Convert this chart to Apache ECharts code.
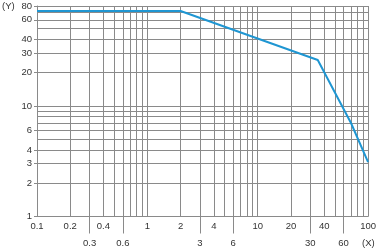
<!DOCTYPE html>
<html>
<head>
<meta charset="utf-8">
<script src="https://cdn.jsdelivr.net/npm/echarts@6/dist/echarts.min.js"></script>
<style>html,body{margin:0;padding:0;background:#fff}#c{width:379px;height:251px}</style>
</head>
<body>
<div id="c"></div>
<script>
// Data (log-log)
const xValues = [0.1, 2, 35, 70, 100];
const yValues = [72, 72, 26, 7, 3.1];

// Grid lines and tick labels
const xGrid = [0.1,0.2,0.3,0.4,0.5,0.6,0.7,0.8,0.9,1,2,3,4,5,6,7,8,9,10,20,30,40,50,60,70,80,90,100];
const xLabelsRow1 = [0.1, 0.2, 0.4, 1, 2, 4, 10, 20, 40, 100];
const xLabelsRow2 = [0.3, 0.6, 3, 6, 30, 60];
const yGrid = [1,2,3,4,5,6,7,8,9,10,20,30,40,50,60,70,80];
const yLabels = [1, 2, 3, 4, 6, 10, 20, 30, 40, 60, 80];
const xName = '(X)';
const yName = '(Y)';

const FONT = 'Liberation Sans, Arial, sans-serif';
const TXT = '#333';
const GRID = '#8a8a8a';
const fmt = v => String(+(+v).toPrecision(6));

const chart = echarts.init(document.getElementById('c'), null, {renderer: 'canvas'});
chart.setOption({
  animation: false,
  grid: {left: 37, right: 9, top: 6, bottom: 34.5, containLabel: false},
  xAxis: [
    {
      type: 'log', logBase: 10, min: 0.1, max: 100, position: 'bottom',
      axisLine: {show: true, onZero: false, lineStyle: {color: GRID, width: 1}},
      axisTick: {show: false, customValues: xGrid},
      splitLine: {show: true, lineStyle: {color: GRID, width: 1}},
      axisLabel: {customValues: xLabelsRow1, formatter: fmt, margin: 5,
        fontFamily: FONT, fontSize: 9.5, color: TXT}
    },
    {
      type: 'log', logBase: 10, min: 0.1, max: 100, position: 'bottom',
      axisLine: {show: false, onZero: false},
      axisTick: {show: true, customValues: xLabelsRow2, length: 17, inside: false,
        lineStyle: {color: GRID, width: 1}},
      splitLine: {show: false},
      axisLabel: {customValues: xLabelsRow2, formatter: fmt, margin: 22,
        fontFamily: FONT, fontSize: 9.5, color: TXT}
    }
  ],
  yAxis: [
    {
      type: 'log', logBase: 10, min: 1, max: 80, position: 'left',
      axisLine: {show: true, onZero: false, lineStyle: {color: GRID, width: 1}},
      axisTick: {show: false, customValues: yGrid},
      splitLine: {show: true, lineStyle: {color: GRID, width: 1}},
      axisLabel: {customValues: yLabels, formatter: fmt, margin: 5,
        fontFamily: FONT, fontSize: 9.5, color: TXT}
    },
    {
      type: 'log', logBase: 10, min: 1, max: 80, position: 'left',
      axisLine: {show: false, onZero: false},
      axisTick: {show: true, customValues: yLabels, length: 3,
        lineStyle: {color: GRID, width: 1}},
      splitLine: {show: false},
      axisLabel: {show: false}
    }
  ],
  graphic: [
    {type: 'text', left: 2, top: 1, style: {text: yName, font: '9.5px ' + FONT, fill: TXT}},
    {type: 'text', left: 362, top: 238, style: {text: xName, font: '9.5px ' + FONT, fill: TXT}}
  ],
  series: [{
    type: 'line',
    xAxisIndex: 0, yAxisIndex: 0,
    data: xValues.map((x, i) => [x, yValues[i]]),
    symbol: 'none',
    lineStyle: {color: '#1f96d2', width: 2},
    z: 5
  }]
});
</script>
</body>
</html>
